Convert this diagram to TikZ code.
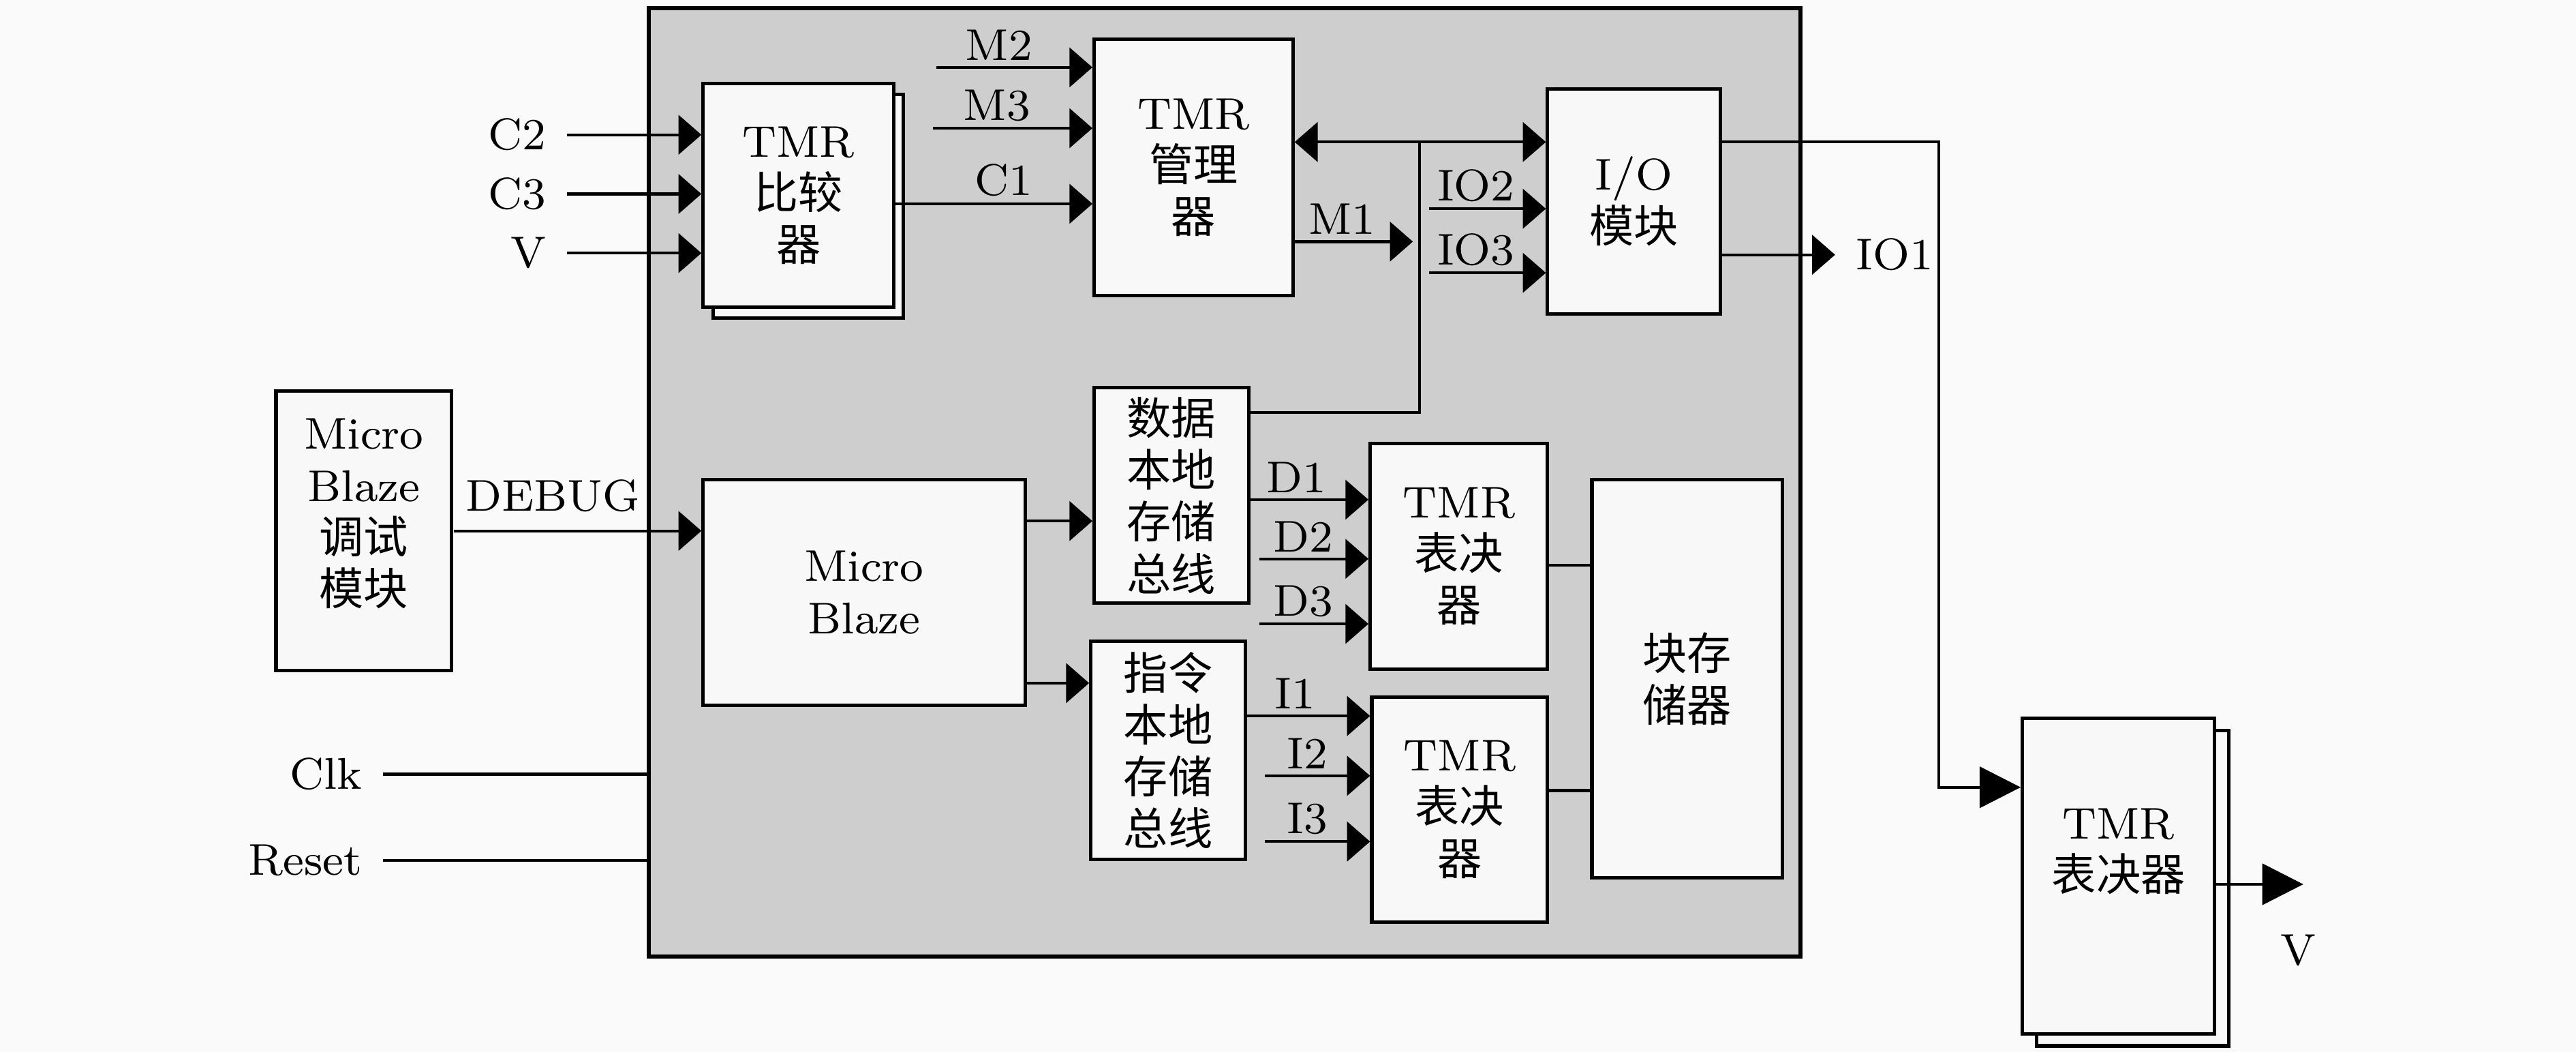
\documentclass[tikz,border=0pt]{standalone}
\usepackage{fontspec}
\newfontfamily\cjk{Noto Sans CJK SC}
\usetikzlibrary{arrows.meta,positioning,calc}
\definecolor{fpgagray}{RGB}{206,206,206}
\definecolor{boxwhite}{RGB}{248,248,248}
\definecolor{pagebg}{RGB}{250,250,250}
\newcommand{\zh}[1]{{\cjk #1}}

\begin{document}
\begin{tikzpicture}[
    blk/.style={rectangle, draw, fill=boxwhite, line width=0.6pt, align=center, inner sep=1pt},
    lab/.style={above, inner sep=1pt, pos=0.4},
    big/.style={-{Triangle[length=2.5mm,width=2.5mm]}},
    >={Triangle[length=1.4mm,width=2.4mm]},
    line width=0.5pt,
    font=\fontsize{7.7}{9}\selectfont
]
    \fill[pagebg] (0,0) rectangle (15.68,6.40);
    \useasboundingbox (0,0) rectangle (15.68,6.40);

    % FPGA area
    \node[draw, fill=fpgagray, line width=0.7pt, minimum width=7.01cm, minimum height=5.77cm] (fpga) at (7.455,3.465) {};

    % blocks
    \node[blk, minimum width=1.16cm, minimum height=1.36cm] (cmpb) at (4.92,5.145) {};
    \node[blk, minimum width=1.16cm, minimum height=1.36cm] (cmp) at (4.86,5.21) {TMR\\\zh{比较}\\\zh{器}};
    \node[blk, minimum width=1.21cm, minimum height=1.56cm] (mgr) at (7.265,5.38) {TMR\\\zh{管理}\\\zh{器}};
    \node[blk, minimum width=1.05cm, minimum height=1.37cm] (io) at (9.945,5.175) {I/O\\\zh{模块}};
    \node[blk, minimum width=1.07cm, minimum height=1.70cm, text depth=0.23cm] (dbg) at (2.215,3.17) {Micro\\Blaze\\\zh{调试}\\\zh{模块}};
    \node[blk, minimum width=1.96cm, minimum height=1.37cm] (mb) at (5.26,2.795) {Micro\\Blaze};
    \node[blk, minimum width=0.94cm, minimum height=1.31cm] (dlmb) at (7.13,3.385) {\zh{数据}\\\zh{本地}\\\zh{存储}\\\zh{总线}};
    \node[blk, minimum width=0.94cm, minimum height=1.33cm] (ilmb) at (7.11,1.835) {\zh{指令}\\\zh{本地}\\\zh{存储}\\\zh{总线}};
    \node[blk, minimum width=1.08cm, minimum height=1.37cm] (dvote) at (8.88,3.015) {TMR\\\zh{表决}\\\zh{器}};
    \node[blk, minimum width=1.07cm, minimum height=1.37cm] (ivote) at (8.885,1.475) {TMR\\\zh{表决}\\\zh{器}};
    \node[blk, minimum width=1.16cm, minimum height=2.42cm] (bram) at (10.27,2.27) {\zh{块存}\\\zh{储器}};
    \node[blk, minimum width=1.17cm, minimum height=1.92cm] (ovoteb) at (12.98,0.997) {};
    \node[blk, minimum width=1.17cm, minimum height=1.92cm, text depth=0.32cm] (ovote) at (12.895,1.07) {TMR\\\zh{表决器}};

    % comparator inputs
    \node[left] (c2) at (3.45,5.58) {C2};
    \node[left] (c3) at (3.45,5.22) {C3};
    \node[left] (vin) at (3.45,4.86) {V};
    \foreach \s in {c2,c3,vin}
        \draw[->] (\s) -- (\s -| cmp.west);

    % manager inputs
    \coordinate (m2) at (5.70,5.99);
    \coordinate (m3) at (5.68,5.62);
    \coordinate (yc1) at (0,5.16);
    \draw[->] (m2) -- node[lab] (lm2) {M2} (m2 -| mgr.west);
    \draw[->] (m3) -- node[lab] (lm3) {M3} (m3 -| mgr.west);
    \draw[->] (cmp.east |- yc1) -- node[lab, pos=0.55] (lc1) {C1} (mgr.west |- yc1);

    % bus to I/O
    \coordinate (bj) at (8.64,5.536);
    \draw[<->] (bj -| mgr.east) -- (bj -| io.west);
    \draw (bj) |- ([yshift=0.505cm]dlmb.east);
    \coordinate (m1) at (8.60,4.93);
    \draw[->] (m1 -| mgr.east) -- node[lab] (lm1) {M1} (m1);
    \coordinate (io2) at (8.70,5.13);
    \coordinate (io3) at (8.70,4.74);
    \draw[->] (io2) -- node[lab] (lio2) {IO2} (io2 -| io.west);
    \draw[->] (io3) -- node[lab] (lio3) {IO3} (io3 -| io.west);

    % I/O outputs
    \coordinate (ov) at (11.80,1.61);
    \draw[big] (bj -| io.east) -| (ov) -- (ov -| ovote.west);
    \node[right] (io1) at (11.17,4.85) {IO1};
    \draw[->] (io1 -| io.east) -- (io1);
    \coordinate (vout) at (14.02,1.02);
    \draw[big] (vout -| ovote.east) -- (vout);
    \node (vlab) at (13.99,0.62) {V};

    % debug and local memory buses
    \draw[->] (dbg.east) -- node[lab, yshift=0.07cm] (ldbg) {DEBUG} (dbg.east -| mb.west);
    \coordinate (yd) at (0,3.23);
    \coordinate (yi) at (0,2.244);
    \draw[->] (mb.east |- yd) -- (dlmb.west |- yd);
    \draw[->] (mb.east |- yi) -- (ilmb.west |- yi);

    \coordinate (d1) at (7.60,3.36);
    \coordinate (d2) at (7.665,3.00);
    \coordinate (d3) at (7.665,2.604);
    \coordinate (i1) at (7.58,2.044);
    \coordinate (i2) at (7.70,1.68);
    \coordinate (i3) at (7.70,1.28);
    \foreach \s/\t in {d1/D1, d2/D2, d3/D3}
        \draw[->] (\s) -- node[lab] (l\s) {\t} (\s -| dvote.west);
    \foreach \s/\t in {i1/I1, i2/I2, i3/I3}
        \draw[->] (\s) -- node[lab] (l\s) {\t} (\s -| ivote.west);

    % voters to block RAM
    \coordinate (yv1) at (0,2.96);
    \coordinate (yv2) at (0,1.59);
    \draw (dvote.east |- yv1) -- (bram.west |- yv1);
    \draw (ivote.east |- yv2) -- (bram.west |- yv2);

    % clock and reset
    \node[left] (clk) at (2.33,1.69) {Clk};
    \node[left] (rst) at (2.33,1.165) {Reset};
    \draw (clk) -- (clk -| fpga.west);
    \draw (rst) -- (rst -| fpga.west);
\end{tikzpicture}
\end{document}
